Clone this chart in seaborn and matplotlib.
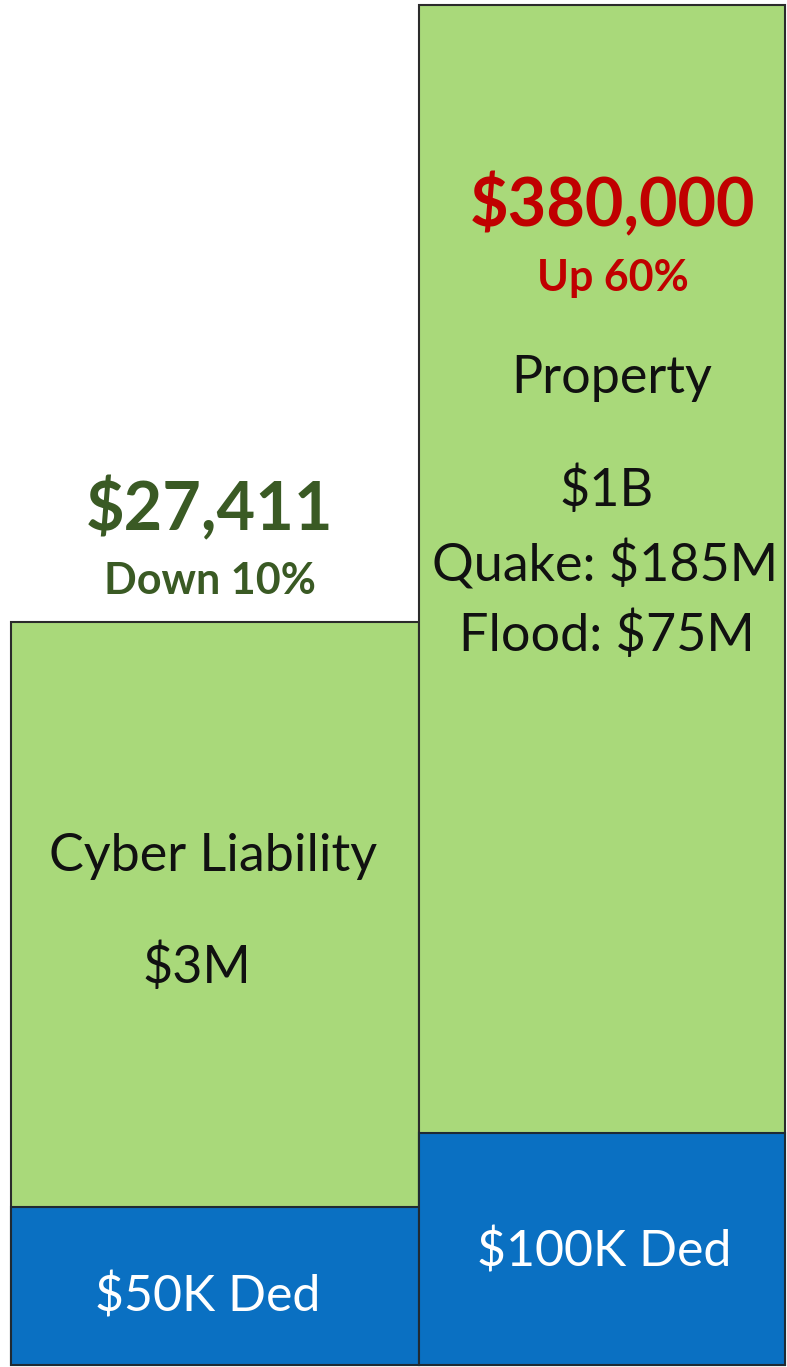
import matplotlib
matplotlib.use("Agg")
import matplotlib.pyplot as plt
import seaborn as sns
import pandas as pd

# Coverage lines and their stacked segment heights (chart units)
lines = ["Cyber Liability", "Property"]
total_height = [743, 1360]        # top of the coverage (green) block
deductible_height = [158, 232]    # blue deductible block at the base

premiums = ["$27,411", "$380,000"]
changes = ["Down 10%", "Up 60%"]
deductible_text = ["$50K Ded", "$100K Ded"]

GREEN = "#A9D97A"
BLUE = "#0A70C2"
DARK_GREEN = "#3A5A24"
RED = "#C00000"

sns.set_theme(style="white")
plt.rcParams["font.family"] = ["Lato", "DejaVu Sans"]

df = pd.DataFrame({"line": lines, "total": total_height, "ded": deductible_height})

fig = plt.figure(figsize=(7.87, 13.67), dpi=100)
ax = fig.add_axes([0, 0, 1, 1])

sns.barplot(data=df, x="line", y="total", color=GREEN, saturation=1,
            edgecolor="#2b2b2b", linewidth=1.5, ax=ax)
sns.barplot(data=df, x="line", y="ded", color=BLUE, saturation=1,
            edgecolor="#1f2a33", linewidth=1.5, ax=ax)

# Bar extents in figure pixels (left edge, right edge)
extents = [(11, 419), (419, 785)]
ax.set_xlim(0, 787)
ax.set_ylim(-2, 1365)
for i, p in enumerate(ax.patches):
    left, right = extents[i % 2]
    p.set_x(left)
    p.set_width(right - left)

def ypix(py):
    # figure pixel row (from top) to data y
    return 1365 - py

# Premium figures and change notes
ax.text(210, ypix(510), premiums[0], ha="center", va="center",
        fontsize=48, fontweight="bold", color=DARK_GREEN)
ax.text(210, ypix(581), changes[0], ha="center", va="center",
        fontsize=31, fontweight="bold", color=DARK_GREEN)
ax.text(613, ypix(206), premiums[1], ha="center", va="center",
        fontsize=48, fontweight="bold", color=RED)
ax.text(613, ypix(278), changes[1], ha="center", va="center",
        fontsize=31, fontweight="bold", color=RED)

# Coverage descriptions
ax.text(213, ypix(857), lines[0], ha="center", va="center",
        fontsize=37.5, color="#111111")
ax.text(197, ypix(967), "$3M", ha="center", va="center",
        fontsize=37.5, color="#111111")
prop_rows = [(lines[1], 378, 612), ("$1B", 490, 607),
             ("Quake: $185M", 565, 605), ("Flood: $75M", 635, 607)]
for txt, py, px in prop_rows:
    ax.text(px, ypix(py), txt, ha="center", va="center",
            fontsize=37.5, color="#111111")

# Deductible labels
ax.text(208, ypix(1297), deductible_text[0], ha="center", va="center",
        fontsize=36, color="white")
ax.text(604, ypix(1252), deductible_text[1], ha="center", va="center",
        fontsize=36, color="white")

ax.set_axis_off()
fig.savefig("out.png", dpi=100, facecolor="white")
